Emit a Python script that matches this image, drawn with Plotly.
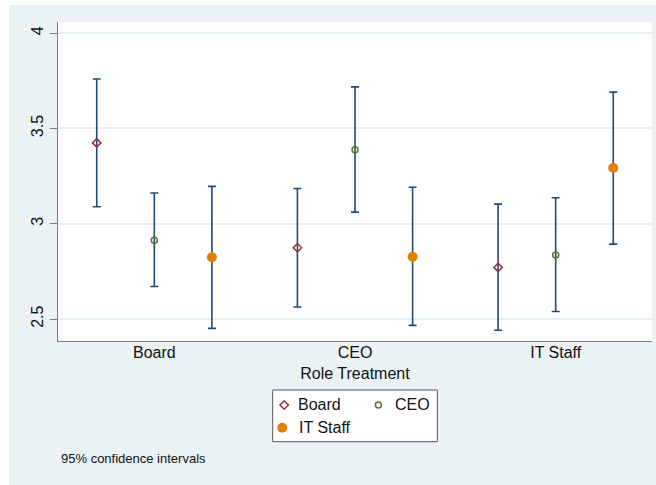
import plotly.graph_objects as go

# Role treatment categories on the x axis
roles = ["Board", "CEO", "IT Staff"]
series_names = ["Board", "CEO", "IT Staff"]

# Predicted means with 95% confidence limits, one list per series
board_mean = [3.424, 2.874, 2.771]
board_lo = [3.089, 2.563, 2.441]
board_hi = [3.759, 3.185, 3.103]

ceo_mean = [2.914, 3.388, 2.836]
ceo_lo = [2.671, 3.061, 2.540]
ceo_hi = [3.161, 3.718, 3.136]

it_mean = [2.824, 2.827, 3.292]
it_lo = [2.451, 2.467, 2.893]
it_hi = [3.196, 3.191, 3.690]

y_ticks = [2.5, 3, 3.5, 4]
y_tick_text = ["2.5", "3", "3.5", "4"]

note_text = "95% confidence intervals"

# ---- styling -------------------------------------------------------------
FONT = "Liberation Sans, Arial, Helvetica, sans-serif"
BG = "#eaf2f3"
NAVY = "#1f4a73"
AXIS = "#7a7a7a"
TXT = 16

W, H = 656, 485
ML, MR, MT, MB = 58, 4, 22, 0
plot_w = W - ML - MR
plot_h = H - MT - MB


def px_x(px):
    """pixel column -> paper x"""
    return (px - ML) / plot_w


def px_y(py):
    """pixel row -> paper y"""
    return (H - MB - py) / plot_h


series_data = [
    (board_mean, board_lo, board_hi),
    (ceo_mean, ceo_lo, ceo_hi),
    (it_mean, it_lo, it_hi),
]
group_offsets = [-0.287, 0.0, 0.287]
marker_styles = [
    dict(symbol="diamond-open", color="#90353b", size=6.5, line=dict(width=1.5, color="#90353b")),
    dict(symbol="circle-open", color="#55752f", size=6, line=dict(width=1.5, color="#55752f")),
    dict(symbol="circle", color="#e37e00", size=10, line=dict(width=0)),
]

fig = go.Figure()

for name, (mean, lo, hi), off, mk in zip(series_names, series_data, group_offsets, marker_styles):
    xs = [i + 1 + off for i in range(len(roles))]
    fig.add_trace(go.Scatter(
        x=xs, y=mean, mode="markers", name=name, showlegend=False,
        marker=mk,
        error_y=dict(
            type="data", symmetric=False,
            array=[h - m for h, m in zip(hi, mean)],
            arrayminus=[m - l for m, l in zip(mean, lo)],
            color=NAVY, thickness=1.6, width=4,
        ),
        cliponaxis=False,
    ))

# ---- legend box drawn on its own small subplot ---------------------------
leg_left, leg_right, leg_top, leg_bottom = 272.7, 437.3, 390, 441.7
leg_marker_x = [0.070, 0.642, 0.058]
leg_text_x = [0.140, 0.729, 0.146]
leg_row_y = [0.71, 0.71, 0.271]

for name, mk, mx, ry in zip(series_names, marker_styles, leg_marker_x, leg_row_y):
    fig.add_trace(go.Scatter(
        x=[mx], y=[ry], mode="markers", marker=mk, showlegend=False,
        xaxis="x2", yaxis="y2", hoverinfo="skip",
    ))

annotations = []
for name, tx, ry in zip(series_names, leg_text_x, leg_row_y):
    annotations.append(dict(
        x=tx, y=ry, xref="x2", yref="y2", text=name, showarrow=False,
        xanchor="left", yanchor="middle", font=dict(family=FONT, size=TXT, color="#111"),
    ))

annotations.append(dict(
    x=px_x(59), y=px_y(458), xref="paper", yref="paper", text=note_text,
    showarrow=False, xanchor="left", yanchor="middle",
    font=dict(family=FONT, size=13, color="#111"),
))

shapes = [
    # legend frame
    dict(type="rect", xref="x2 domain", yref="y2 domain", x0=0, x1=1, y0=0, y1=1,
         fillcolor="white", line=dict(color="#555", width=1), layer="below"),
    # thin white strips around the graph region
    dict(type="rect", xref="paper", yref="paper", x0=px_x(-20), x1=px_x(9),
         y0=px_y(H + 20), y1=px_y(-20), fillcolor="white", line=dict(width=0), layer="above"),
    dict(type="rect", xref="paper", yref="paper", x0=px_x(-20), x1=px_x(W + 20),
         y0=px_y(5), y1=px_y(-20), fillcolor="white", line=dict(width=0), layer="above"),
]

fig.update_layout(
    width=W, height=H,
    margin=dict(l=ML, r=MR, t=MT, b=MB, pad=0),
    paper_bgcolor=BG, plot_bgcolor="white",
    font=dict(family=FONT, size=TXT, color="#111"),
    showlegend=False,
    annotations=annotations,
    shapes=shapes,
    xaxis=dict(
        domain=[0, 1], anchor="y",
        range=[0.52, 3.48],
        tickvals=[1, 2, 3], ticktext=roles,
        ticks="", showgrid=False, zeroline=False,
        showline=True, linecolor=AXIS, linewidth=1.3,
        tickfont=dict(size=TXT, color="#111"),
        ticklabelstandoff=-3,
        title=dict(text="Role Treatment", font=dict(size=TXT, color="#111"), standoff=7),
    ),
    yaxis=dict(
        domain=[px_y(341), 1], anchor="x",
        range=[2.385, 4.058],
        tickvals=y_ticks, ticktext=y_tick_text, tickangle=-90,
        ticks="outside", ticklen=7, tickcolor=AXIS, tickwidth=1.2,
        showgrid=True, gridcolor="#e6eff1", gridwidth=1.5,
        zeroline=False, showline=True, linecolor=AXIS, linewidth=1.3,
        tickfont=dict(size=TXT, color="#111"),
    ),
    xaxis2=dict(
        domain=[px_x(leg_left), px_x(leg_right)], anchor="y2",
        range=[0, 1], visible=False, fixedrange=True,
    ),
    yaxis2=dict(
        domain=[px_y(leg_bottom), px_y(leg_top)], anchor="x2",
        range=[0, 1], visible=False, fixedrange=True,
    ),
)

fig.write_html("out.html")
